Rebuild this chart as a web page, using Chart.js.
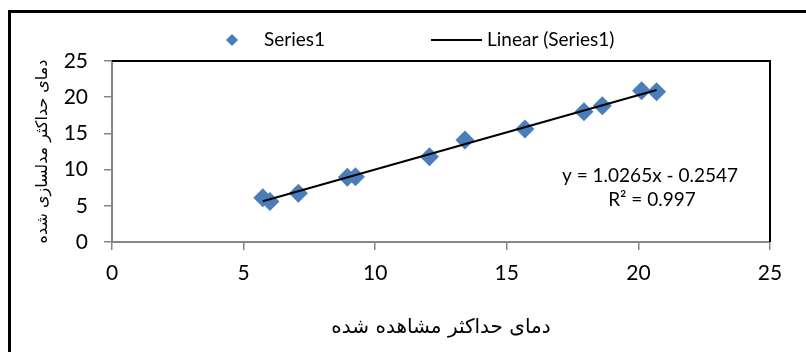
<!DOCTYPE html>
<html>
<head>
<meta charset="utf-8">
<script src="https://cdn.jsdelivr.net/npm/chart.js@4/dist/chart.umd.min.js"></script>
<style>
  html, body { margin: 0; padding: 0; background: #fff; }
  #wrap { position: relative; width: 806px; height: 352px; }
</style>
</head>
<body>
<div id="wrap"><canvas id="c" width="806" height="352"></canvas></div>
<script>
// Observed vs. modelled maximum temperature
const observed = [5.73, 6.0, 7.08, 8.94, 9.25, 12.06, 13.41, 15.69, 17.93, 18.63, 20.12, 20.69];
const modeled  = [6.12, 5.6, 6.72, 8.93, 9.0, 11.78, 14.09, 15.6, 18.0, 18.83, 20.9, 20.76];
const xTicks = [0, 5, 10, 15, 20, 25];
const yTicks = [0, 5, 10, 15, 20, 25];
const trendSlope = 1.0265;
const trendIntercept = -0.2547;
const rSquared = 0.997;
const seriesName = 'Series1';
const trendName = 'Linear (Series1)';
const xTitle = 'دمای حداکثر مشاهده شده';
const yTitle = 'دمای حداکثر مدلسازی شده';

const points = observed.map((x, i) => ({ x, y: modeled[i] }));
const xMin = Math.min(...observed), xMax = Math.max(...observed);
const trendPoints = [xMin, xMax].map(x => ({ x, y: trendSlope * x + trendIntercept }));

const BLUE = '#4A7EBB';
const AXIS = '#868686';
const LATIN = 'Lato, "Open Sans", sans-serif';
const ARABIC = '"DejaVu Sans", sans-serif';

// page background, outer frame, plot-area frame, legend and equation label
const decorations = {
  id: 'decorations',
  beforeDraw(chart) {
    const { ctx, width, height } = chart;
    ctx.save();
    ctx.fillStyle = '#fff';
    ctx.fillRect(0, 0, width, height);
    ctx.strokeStyle = '#000';
    ctx.lineWidth = 3;
    ctx.beginPath();
    ctx.moveTo(9.5, height + 5);
    ctx.lineTo(9.5, 11.5);
    ctx.lineTo(width + 5, 11.5);
    ctx.stroke();
    ctx.restore();
  },
  afterDraw(chart) {
    const { ctx, chartArea: a } = chart;
    ctx.save();
    // plot-area border (top and right)
    ctx.strokeStyle = '#000';
    ctx.lineWidth = 2;
    ctx.beginPath();
    ctx.moveTo(a.left, a.top);
    ctx.lineTo(a.right, a.top);
    ctx.lineTo(a.right, a.bottom);
    ctx.stroke();

    // legend
    const ly = 40;
    ctx.fillStyle = BLUE;
    ctx.beginPath();
    ctx.moveTo(232, ly - 6); ctx.lineTo(238, ly); ctx.lineTo(232, ly + 6); ctx.lineTo(226, ly);
    ctx.closePath();
    ctx.fill();
    ctx.fillStyle = '#000';
    ctx.font = '19px ' + LATIN;
    ctx.textBaseline = 'middle';
    ctx.textAlign = 'left';
    ctx.fillText(seriesName, 264, ly);
    ctx.strokeStyle = '#000';
    ctx.lineWidth = 2;
    ctx.beginPath();
    ctx.moveTo(431, ly); ctx.lineTo(482, ly);
    ctx.stroke();
    ctx.fillText(trendName, 487, ly);

    // trendline equation
    ctx.font = '19px ' + LATIN;
    ctx.textAlign = 'center';
    const sign = trendIntercept < 0 ? '-' : '+';
    ctx.fillText('y = ' + trendSlope.toFixed(4) + 'x ' + sign + ' ' + Math.abs(trendIntercept).toFixed(4), 650, 176);
    ctx.fillText('R² = ' + rSquared.toFixed(3), 652, 200);
    ctx.restore();
  }
};

const tickFont = { family: LATIN, size: 21 };

new Chart(document.getElementById('c'), {
  type: 'scatter',
  data: {
    datasets: [
      {
        type: 'line',
        label: trendName,
        data: trendPoints,
        borderColor: '#000',
        borderWidth: 2,
        pointRadius: 0,
        fill: false,
        order: 0
      },
      {
        label: seriesName,
        data: points,
        pointStyle: 'rectRot',
        pointRadius: 9.5,
        pointHoverRadius: 9.5,
        backgroundColor: BLUE,
        borderColor: BLUE,
        borderWidth: 0,
        order: 1
      }
    ]
  },
  options: {
    responsive: false,
    animation: false,
    devicePixelRatio: 1,
    layout: { padding: { top: 61, right: 36, left: 0, bottom: 0 } },
    plugins: { legend: { display: false }, tooltip: { enabled: false } },
    scales: {
      x: {
        type: 'linear',
        min: xTicks[0], max: xTicks[xTicks.length - 1],
        afterBuildTicks(s) { s.ticks = xTicks.map(v => ({ value: v })); },
        afterFit(s) { s.height = 110; },
        ticks: { font: tickFont, color: '#000', padding: 11, maxRotation: 0 },
        grid: { drawOnChartArea: false, drawTicks: true, tickLength: 8, color: AXIS, lineWidth: 1.5 },
        border: { display: true, color: AXIS, width: 2 },
        title: { display: true, text: xTitle, font: { family: ARABIC, size: 20 }, color: '#000', padding: { top: 0, bottom: 12 } }
      },
      y: {
        type: 'linear',
        min: yTicks[0], max: yTicks[yTicks.length - 1],
        afterBuildTicks(s) { s.ticks = yTicks.map(v => ({ value: v })); },
        afterFit(s) { s.width = 112; },
        ticks: { font: tickFont, color: '#000', padding: 16 },
        grid: { drawOnChartArea: false, drawTicks: true, tickLength: 8, color: AXIS, lineWidth: 1.5 },
        border: { display: true, color: AXIS, width: 2 },
        title: { display: true, text: yTitle, font: { family: ARABIC, size: 16 }, color: '#000', padding: { top: 33, bottom: 0 } }
      }
    }
  },
  plugins: [decorations]
});
</script>
</body>
</html>
